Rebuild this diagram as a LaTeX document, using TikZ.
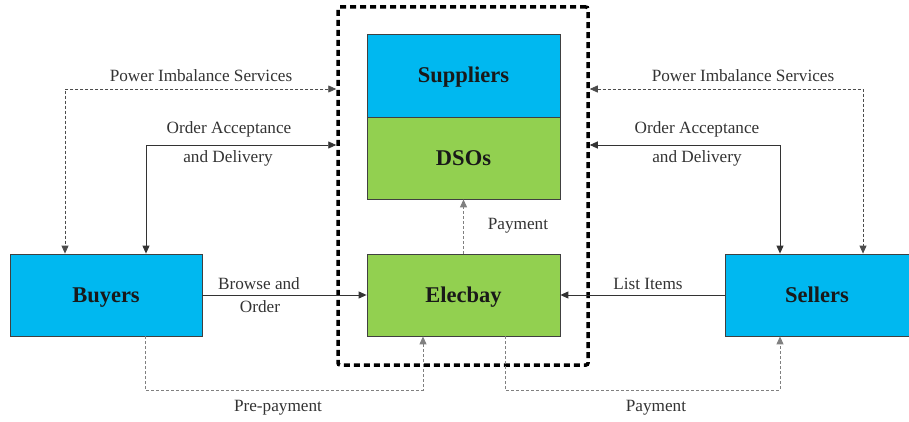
\documentclass[tikz,border=0pt]{standalone}
\usepackage{fontspec}
\setmainfont{Liberation Serif}
\usetikzlibrary{arrows.meta}
\definecolor{cyanbox}{HTML}{00B8F0}
\definecolor{greenbox}{HTML}{92D050}
\begin{document}
\begin{tikzpicture}[x=1pt,y=-1pt,
  box/.style={draw=black!75,line width=0.8pt,minimum width=193pt,minimum height=82pt,inner sep=0pt,
    font=\fontsize{22.5}{26}\selectfont\bfseries,text=black!90,text height=15pt,text depth=0pt},
  lbl/.style={font=\fontsize{17.2}{20}\selectfont,text=black!80,inner sep=0pt},
  tip/.style={-{Triangle[length=8pt,width=7pt]}},
  bitip/.style={{Triangle[length=8pt,width=7pt]}-{Triangle[length=8pt,width=7pt]}},
  solidcon/.style={draw=black!80,line width=0.9pt},
  dashcon/.style={draw=black!70,line width=0.8pt,dash pattern=on 3pt off 2pt},
  paycon/.style={draw=black!50,line width=1pt,dash pattern=on 3pt off 2pt},
]
\useasboundingbox (0,0) rectangle (909,422);
\node[draw=black,line width=3.5pt,dash pattern=on 6pt off 4pt,rounded corners=2pt,
  minimum width=250pt,minimum height=358pt,inner sep=0pt] (group) at (463,186) {};
\node[box,fill=cyanbox,minimum height=83pt] (sup) at (463.5,75.5) {Suppliers};
\node[box,fill=greenbox] (dso) at (463.5,158) {DSOs};
\node[box,fill=greenbox] (elec) at (463.5,295) {Elecbay};
\node[box,fill=cyanbox,minimum width=192pt] (buy) at (106,295) {Buyers};
\node[box,fill=cyanbox,minimum width=184pt] (sel) at (817,295) {Sellers};

\coordinate (pl) at (65,89);
\coordinate (ol) at (146,145);
\coordinate (pr) at (863,89);
\coordinate (or) at (780,145);
\coordinate (pp1) at (145,390);
\coordinate (pp2) at (423,390);
\coordinate (py1) at (505,390);
\coordinate (py2) at (780,390);

\draw[dashcon,bitip] (group.west |- pl) -| (buy.north -| pl);
\draw[solidcon,bitip] (group.west |- ol) -| (buy.north -| ol);
\draw[dashcon,bitip] (group.east |- pr) -| (sel.north -| pr);
\draw[solidcon,bitip] (group.east |- or) -| (sel.north -| or);

\draw[solidcon,tip] (buy.east) -- (elec.west);
\draw[solidcon,tip] (sel.west) -- (elec.east);
\draw[paycon,tip] (elec.north) -- (dso.south);
\draw[paycon,tip] (buy.south -| pp1) -- (pp1) -- (pp2) -- (elec.south -| pp2);
\draw[paycon,tip] (elec.south -| py1) -- (py1) -- (py2) -- (sel.south -| py2);

\node[lbl] (t1) at (201,76) {Power Imbalance Services};
\node[lbl] (t2) at (229,129) {Order Acceptance};
\node[lbl] (t3) at (228,158) {and Delivery};
\node[lbl] (t4) at (743,76) {Power Imbalance Services};
\node[lbl] (t5) at (697,129) {Order Acceptance};
\node[lbl] (t6) at (697,158) {and Delivery};
\node[lbl] (t7) at (259,284) {Browse and};
\node[lbl] (t8) at (260,307) {Order};
\node[lbl] (t9) at (648,284) {List Items};
\node[lbl] (t10) at (518,226) {Payment};
\node[lbl] (t11) at (278,408) {Pre-payment};
\node[lbl] (t12) at (656,408) {Payment};
\end{tikzpicture}
\end{document}
